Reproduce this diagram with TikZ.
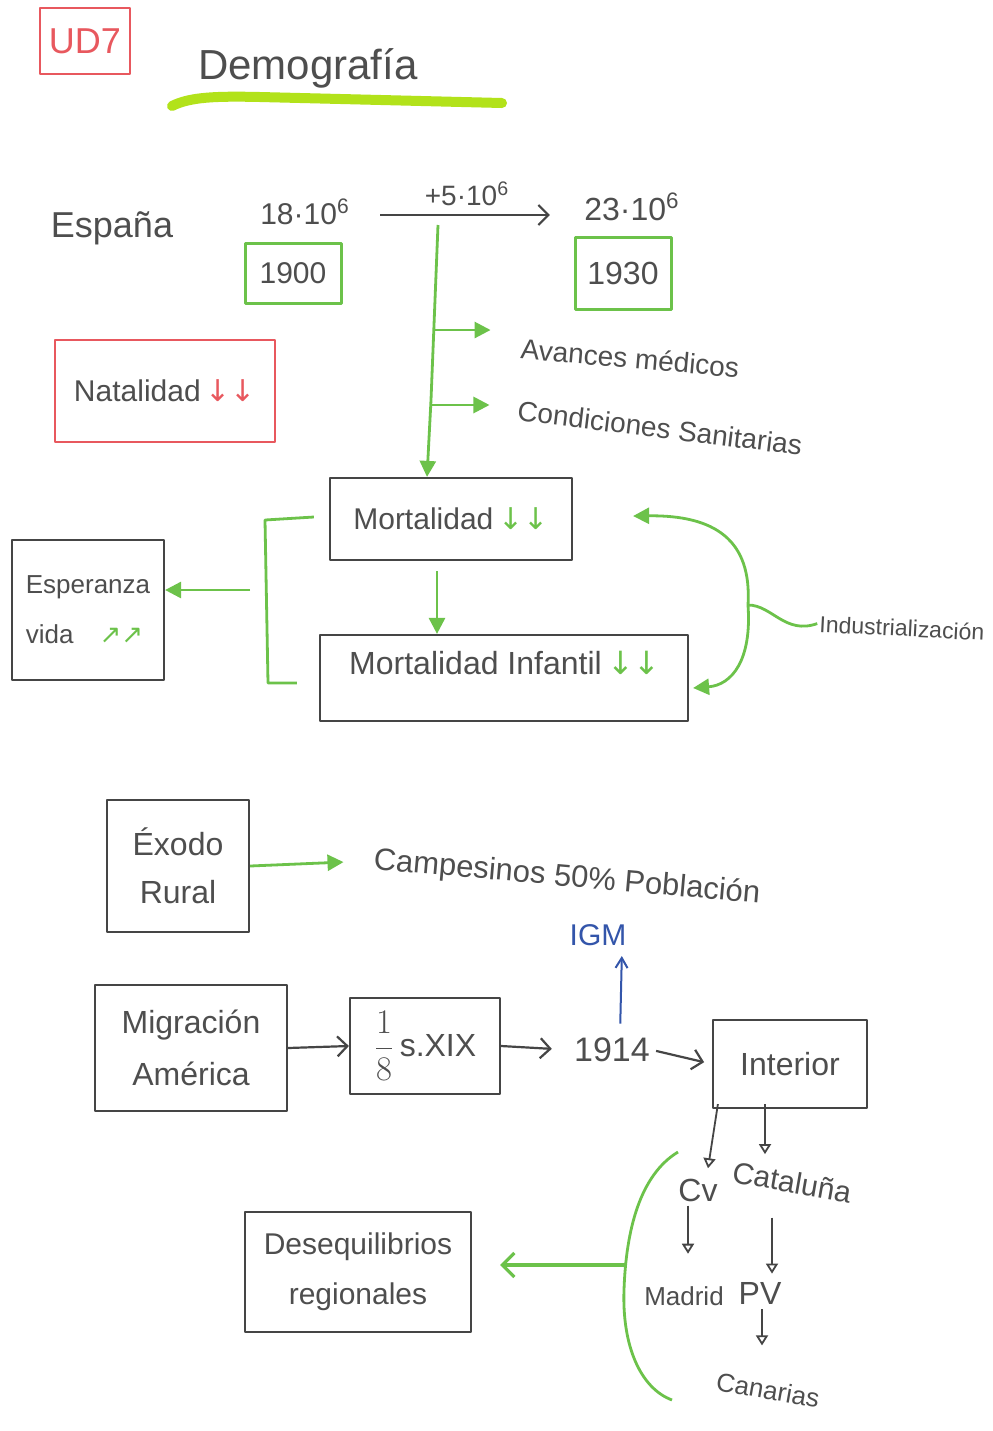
\documentclass[tikz,border=0pt]{standalone}
\usepackage{fontspec}
\setmainfont{Liberation Sans}
\newfontfamily\symf{DejaVu Sans}
\usetikzlibrary{arrows.meta,calc}
\definecolor{ink}{HTML}{4E4E4E}
\definecolor{pen}{HTML}{454545}
\definecolor{mk}{HTML}{6CC24A}
\definecolor{rd}{HTML}{E8585E}
\definecolor{bl}{HTML}{3355AA}
\definecolor{hl}{HTML}{B2E21A}
\begin{document}
\begin{tikzpicture}[x=0.5pt,y=-0.5pt,line join=round,
 tx/.style={text=ink,inner sep=1pt},
 fs/.style={font=\fontsize{#1}{#1}\selectfont},
 pbox/.style={draw=pen,line width=1.1pt,text=ink,align=center,inner sep=0pt},
 gbox/.style={pbox,draw=mk,line width=1.5pt},
 rbox/.style={pbox,draw=rd,line width=1.1pt},
 garr/.style={draw=mk,line width=1.4pt,-{Triangle[length=8pt,width=8pt]}},
 gline/.style={draw=mk,line width=1.4pt},
 karr/.style={draw=pen,line width=1.1pt,-{Straight Barb[length=5pt,width=10pt]}},
 tarr/.style={draw=pen,line width=0.9pt,-{Triangle[open,length=5pt,width=6pt]}},
 barr/.style={draw=bl,line width=1pt,-{Straight Barb[length=5pt,width=6pt]}}
]
\useasboundingbox (0,0) rectangle (992,1431);
\fill[white] (0,0) rectangle (992,1431);

% title
\node[rbox,minimum width=45pt,minimum height=33pt,text=rd,fs=18] (ud7) at (85,41) {UD7};
\draw[hl,line width=5pt,line cap=round] (172,106) .. controls (190,97) and (215,96) .. (260,97) -- (502,103);
\node[tx,fs=21] (title) at (308,68) {Demografía};

% Espana
\node[tx,fs=18] (esp) at (112,228) {España};
\node[tx,fs=15] (p18) at (305,212) {18·10\textsuperscript{6}};
\node[gbox,minimum width=48pt,minimum height=30pt,fs=15] (y1900) at (293,273) {1900};
\node[tx,fs=16] (p23) at (632,207) {23·10\textsuperscript{6}};
\node[gbox,minimum width=48pt,minimum height=36pt,fs=16] (y1930) at (623,273) {1930};
\draw[karr,shorten <=14pt,shorten >=16pt] ($(p18.east)+(0,3)$) -- node[tx,fs=14,above=3pt] (inc) {+5·10\textsuperscript{6}} ($(p23.west)+(0,8)$);

% trunk
\coordinate (t0) at (438,225);
\node[pbox,minimum width=121pt,minimum height=41pt,fs=15] (mort) at (451,519) {Mortalidad\,{\color{mk}\symf ↓↓}};
\draw[garr] (t0) -- (431,400) -- ($(mort.north)+(-24,0)$);
\node[tx,fs=14,rotate=-5] (av) at (630,358) {Avances médicos};
\node[tx,fs=14,rotate=-7] (cond) at (660,428) {Condiciones Sanitarias};
\coordinate (b1) at (434,330);
\coordinate (b2) at (431,405);
\draw[garr,shorten >=14pt] (b1) -- (b1 -| av.west);
\draw[garr,shorten >=13pt] (b2) -- (b2 -| cond.west);

% Natalidad
\node[rbox,minimum width=110pt,minimum height=51pt,fs=15] (nat) at (165,391) {Natalidad\,{\color{rd}\symf ↓↓}};

% Esperanza
\node[pbox,minimum width=76pt,minimum height=70pt,fs=13,align=left] (espv) at (88,610) {Esperanza\\[12pt]vida\quad{\color{mk}\symf ↗↗}};

% Mortalidad infantil
\node[pbox,minimum width=184pt,minimum height=43pt] (mi) at (504,678) {};
\node[tx,fs=16] (mitx) at (505,663) {Mortalidad Infantil\,{\color{mk}\symf ↓↓}};
\draw[garr,shorten <=5pt] ($(mort.south)+(-14,0)$) coordinate (ms) -- (ms |- mi.north);

% bracket
\draw[gline] ($(mort.west)+(-15,-2)$) -- (265,520) -- (268,683) -- ($(mi.west)+(-22,5)$);
\coordinate (ea) at (250,590);
\draw[garr] (ea) -- (ea -| espv.east);

% industrializacion
\node[tx,fs=11.5,rotate=-3] (ind) at (902,628) {Industrialización};
\coordinate (j) at (748,605);
\draw[gline] (ind.west) .. controls (785,635) and (772,605) .. (j);
\draw[garr] (j) .. controls (752,540) and (715,515) .. ($(mort.east)+(60,-3)$);
\draw[garr] (j) .. controls (752,660) and (732,685) .. ($(mi.east)+(4,10)$);

% Exodo
\node[pbox,minimum width=71pt,minimum height=66pt,fs=16] (exo) at (178,866) {Éxodo\\[8pt]Rural};
\node[tx,fs=15.5,rotate=-5] (camp) at (567,878) {Campesinos 50\% Población};
\draw[garr,shorten >=14pt] (exo.east) -- (camp.west);

% IGM / migracion
\node[tx,text=bl,fs=15] (igm) at (598,935) {IGM};
\node[tx,fs=17] (y14) at (612,1050) {1914};
\draw[barr,shorten <=6pt,shorten >=4pt] ($(y14.north)+(8,0)$) -- ($(igm.south)+(24,0)$);
\node[pbox,minimum width=96pt,minimum height=63pt,fs=16] (mig) at (191,1048) {Migración\\[10pt]América};
\node[pbox,minimum width=75pt,minimum height=48pt,fs=16] (s19) at (425,1046) {$\displaystyle\frac{1}{8}$\,s.XIX};
\node[pbox,minimum width=77pt,minimum height=44pt,fs=16] (int) at (790,1064) {Interior};
\draw[karr] (mig.east) -- (s19.west);
\draw[karr,shorten >=10pt] (s19.east) -- (y14.west);
\draw[karr,shorten <=2pt,shorten >=4pt] (y14.east) -- (int.west);

% regions
\node[tx,fs=16] (cv) at (698,1190) {Cv};
\node[tx,fs=15,rotate=-10] (cat) at (792,1182) {Cataluña};
\node[tx,fs=13] (mad) at (684,1296) {Madrid};
\node[tx,fs=16] (pv) at (760,1293) {PV};
\node[tx,fs=13,rotate=-10] (can) at (768,1390) {Canarias};
\draw[tarr] ($(int.south west)+(6,-5)$) -- ($(cv.north)+(10,-8)$);
\draw[tarr] ($(int.south)+(-25,-5)$) -- ++(0,50);
\draw[tarr] ($(cv.south)+(-10,2)$) -- ++(0,48);
\draw[tarr] ($(pv.north)+(12,-62)$) -- ($(pv.north)+(12,-6)$);
\draw[tarr] ($(pv.south)+(2,3)$) -- ++(0,36);

% green arc + desequilibrios
\draw[gline] (678,1152) .. controls (640,1175) and (626,1230) .. (624,1290) .. controls (622,1345) and (640,1388) .. (672,1400);
\node[pbox,minimum width=113pt,minimum height=60pt,fs=15] (des) at (358,1272) {Desequilibrios\\[10pt]regionales};
\coordinate (ga) at (626,1265);
\draw[draw=mk,line width=1.6pt,-{Straight Barb[length=6pt,width=12pt]},shorten >=14pt] (ga) -- (ga -| des.east);
\end{tikzpicture}
\end{document}
